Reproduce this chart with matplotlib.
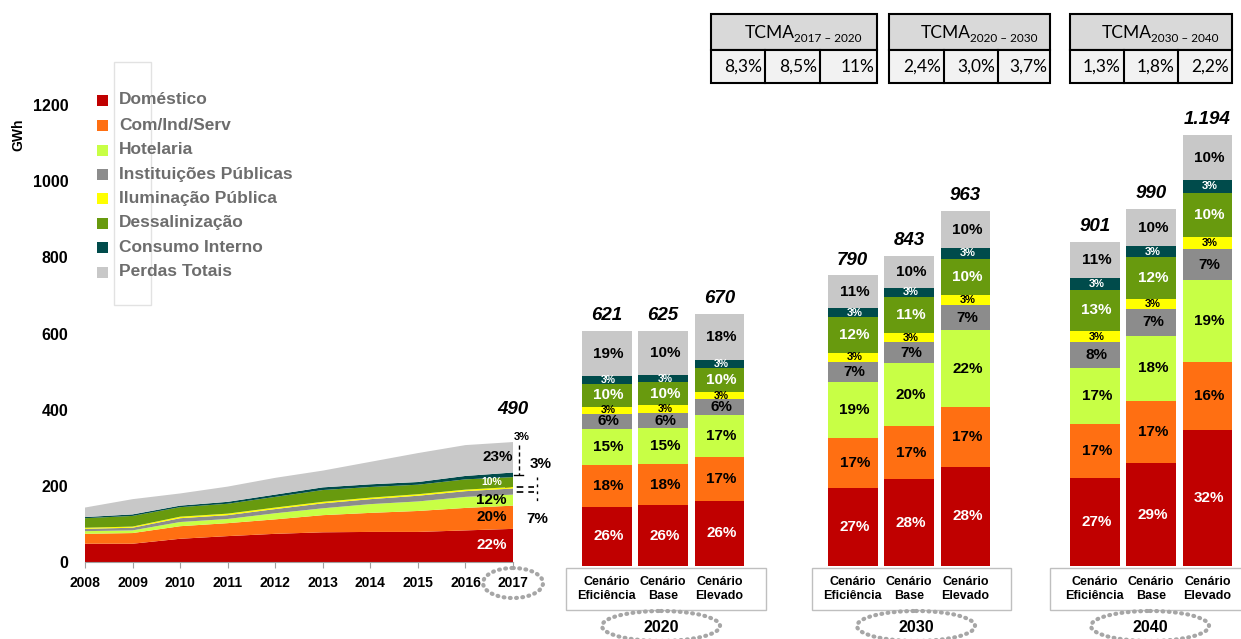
import matplotlib
matplotlib.use('Agg')
import matplotlib.pyplot as plt
from matplotlib.patches import Rectangle, Ellipse
import numpy as np

plt.rcParams['font.family'] = ['Liberation Sans', 'DejaVu Sans']

# ---------------- data ----------------
series = ['Doméstico', 'Com/Ind/Serv', 'Hotelaria', 'Instituições Públicas',
          'Iluminação Pública', 'Dessalinização', 'Consumo Interno', 'Perdas Totais']
colors = ['#C00000', '#FF6F12', '#C8FF45', '#8C8C8C', '#FFFF00', '#689A0E', '#004B4B', '#C8C8C8']
label_colors = ['white', 'black', 'black', 'black', 'black', 'white', 'white', 'black']

years = [2008, 2009, 2010, 2011, 2012, 2013, 2014, 2015, 2016, 2017]
hist_domestico = [48, 48, 61, 68, 74, 78, 79, 79, 83, 87]
hist_comind = [26, 28, 33, 34, 38, 45, 50, 55, 59, 61]
hist_hotelaria = [7, 7, 11, 11, 16, 18, 23, 25, 29, 29]
hist_inst = [6, 7, 10, 10, 11, 13, 13, 15, 15, 16]
hist_ilum = [3, 3, 4, 4, 4, 4, 4, 4, 4, 4]
hist_dessal = [25, 28, 25, 26, 28, 31, 28, 25, 27, 26]
hist_consumo = [3, 4, 4, 5, 6, 7, 7, 7, 9, 12]
hist_perdas = [25, 40, 32, 40, 44, 44, 59, 76, 81, 80]
hist_total_label = '490'

groups = ['2020', '2030', '2040']
scenarios = ['Cenário\nEficiência', 'Cenário\nBase', 'Cenário\nElevado']
# bar order: 2020 Ef, Base, Elev, 2030 Ef, Base, Elev, 2040 Ef, Base, Elev
sc_domestico = [156, 159, 171, 206, 228, 261, 232, 270, 356]
sc_comind = [109, 110, 114, 130, 140, 156, 142, 164, 179]
sc_hotelaria = [95, 93, 111, 146, 164, 202, 147, 171, 216]
sc_inst = [39, 40, 42, 55, 55, 66, 68, 69, 81]
sc_ilum = [19, 20, 19, 23, 25, 26, 27, 26, 33]
sc_dessal = [61, 60, 63, 93, 94, 96, 110, 111, 115]
sc_consumo = [19, 19, 20, 25, 25, 28, 29, 29, 34]
sc_perdas = [118, 117, 123, 85, 84, 97, 97, 97, 117]
sc_totals = ['621', '625', '670', '790', '843', '963', '901', '990', '1.194']
sc_pct = [
    [26, 18, 15, 6, 3, 10, 3, 19],
    [26, 18, 15, 6, 3, 10, 3, 10],
    [26, 17, 17, 6, 3, 10, 3, 18],
    [27, 17, 19, 7, 3, 12, 3, 11],
    [28, 17, 20, 7, 3, 11, 3, 10],
    [28, 17, 22, 7, 3, 10, 3, 10],
    [27, 17, 17, 8, 3, 13, 3, 11],
    [29, 17, 18, 7, 3, 12, 3, 10],
    [32, 16, 19, 7, 3, 10, 3, 10],
]

tcma_titles = ['2017 – 2020', '2020 – 2030', '2030 – 2040']
tcma_values = [['8,3%', '8,5%', '11%'], ['2,4%', '3,0%', '3,7%'], ['1,3%', '1,8%', '2,2%']]

# ---------------- layout ----------------
W, H = 1241, 639
fig = plt.figure(figsize=(W / 100, H / 100), dpi=100)


def px_axes(left, top, right, bottom):
    return fig.add_axes([left / W, 1 - bottom / H, (right - left) / W, (bottom - top) / H])


ov = px_axes(0, 0, W, H)
ov.set_xlim(0, W)
ov.set_ylim(H, 0)
ov.axis('off')

YMAX = 1250
SCALE = 0.3808  # px per GWh

# ---- area chart ----
area_bottom = 562
ax1 = px_axes(85, area_bottom - YMAX * SCALE, 513, area_bottom)
hist = [hist_domestico, hist_comind, hist_hotelaria, hist_inst, hist_ilum,
        hist_dessal, hist_consumo, hist_perdas]
ax1.stackplot(years, *hist, colors=colors, linewidth=0)
ax1.set_xlim(2008, 2017)
ax1.set_ylim(0, YMAX)
ax1.set_facecolor('none')
for s in ['top', 'right', 'left']:
    ax1.spines[s].set_visible(False)
ax1.spines['bottom'].set_color('#a0a0a0')
ax1.set_xticks(years)
ax1.set_xticklabels([str(y) for y in years], fontsize=10, fontweight='bold')
ax1.tick_params(axis='x', length=4, color='#a0a0a0', pad=6)
ax1.set_yticks(range(0, 1201, 200))
ax1.set_yticklabels([str(v) for v in range(0, 1201, 200)], fontsize=11.5, fontweight='bold')
ax1.tick_params(axis='y', length=0, pad=12)

cum = np.cumsum([h[-1] for h in hist])
bots = np.concatenate([[0], cum[:-1]])
xl = 2016.55
ax1.text(xl, bots[0] + hist[0][-1] / 2, '22%', color='white', fontsize=11, fontweight='bold', ha='center', va='center')
ax1.text(xl, bots[1] + hist[1][-1] / 2, '20%', color='black', fontsize=11, fontweight='bold', ha='center', va='center')
ax1.text(xl, bots[2] + hist[2][-1] / 2, '12%', color='black', fontsize=11, fontweight='bold', ha='center', va='center')
ax1.text(xl, bots[5] + hist[5][-1] / 2, '10%', color='white', fontsize=7.5, fontweight='bold', ha='center', va='center')
ax1.text(xl + 0.12, bots[7] + hist[7][-1] / 2, '23%', color='black', fontsize=11, fontweight='bold', ha='center', va='center')
ax1.annotate(hist_total_label, xy=(2017, cum[-1]), xytext=(0, 17), textcoords='offset points',
             ha='center', va='bottom', fontsize=13.5, fontweight='bold', style='italic')

# annotations right of 2017
ov.text(522, 437, '3%', fontsize=8, fontweight='bold', ha='center', va='center')
ov.plot([519, 519], [445, 475], color='black', lw=1, ls=(0, (3, 2)))
ov.plot([514, 523], [475, 475], color='black', lw=1)
ov.text(541, 464, '3%', fontsize=11, fontweight='bold', ha='center', va='center')
ov.plot([505, 534], [487, 487], color='black', lw=1.2, ls=(0, (4, 3)))
ov.plot([505, 534], [492, 492], color='black', lw=1.2, ls=(0, (4, 3)))
ov.plot([537, 537], [477, 504], color='black', lw=1, ls=(0, (2, 3)))
ov.text(537, 519, '7%', fontsize=11, fontweight='bold', ha='center', va='center')

ell = Ellipse((513, 583), 60, 30, fill=False, ec='#a6a6a6', lw=3, ls=(0, (0.2, 1.3)))
ell.set_capstyle('round')
ov.add_patch(ell)

ov.text(18, 135, 'GWh', rotation=90, fontsize=10, fontweight='bold', ha='center', va='center')

# ---- legend ----
ov.add_patch(Rectangle((114, 62), 37, 243, fill=False, ec='#e2e2e2', lw=1))
leg_y = [100, 125, 150, 174, 198, 223, 247, 272]
for name, col, y in zip(series, colors, leg_y):
    ov.add_patch(Rectangle((97, y - 5.5), 11, 11, fc=col, ec='none'))
    ov.text(119, y, name, fontsize=12.5, fontweight='bold', color='#6d6d6d', ha='left', va='center')

# ---- scenario bars ----
bar_bottom = 566
ax2 = px_axes(560, bar_bottom - YMAX * SCALE, W, bar_bottom)
ax2.set_xlim(560, W)
ax2.set_ylim(0, YMAX)
ax2.axis('off')
group_left = [582, 828, 1070]
step, width = 56.3, 49.5
centers = [gl + i * step + width / 2 for gl in group_left for i in range(3)]
sc = [sc_domestico, sc_comind, sc_hotelaria, sc_inst, sc_ilum, sc_dessal, sc_consumo, sc_perdas]
bottom = np.zeros(len(centers))
for k, vals in enumerate(sc):
    vals = np.array(vals, dtype=float)
    ax2.bar(centers, vals, width=width, bottom=bottom, color=colors[k], edgecolor='none')
    for b, (cx, v, b0) in enumerate(zip(centers, vals, bottom)):
        small = sc_pct[b][k] <= 3 and k in (4, 6)
        fs = 8 if small else 11
        if small and b < 3:
            fs = 7.5
        ax2.text(cx + 2, b0 + v / 2, f'{sc_pct[b][k]}%', ha='center', va='center',
                 fontsize=fs, fontweight='bold', color=label_colors[k])
    bottom += vals
for cx, top, lab in zip(centers, bottom, sc_totals):
    ax2.annotate(lab, xy=(cx, top), xytext=(0, 5), textcoords='offset points', ha='center',
                 va='bottom', fontsize=13.5, fontweight='bold', style='italic')

# boxes and group labels
box_x = [(566, 766), (812, 1011), (1050, 1250)]
ell_cx = [661, 916, 1150]
for g, (bx0, bx1) in enumerate(box_x):
    ov.add_patch(Rectangle((bx0, 568), bx1 - bx0, 42, fc='white', ec='#bfbfbf', lw=1))
    for i in range(3):
        ov.text(centers[g * 3 + i], 589, scenarios[i], ha='center', va='center', fontsize=9,
                fontweight='bold', linespacing=1.15)
    e = Ellipse((ell_cx[g], 626), 118, 30, fill=False, ec='#a6a6a6', lw=3, ls=(0, (0.2, 1.3)))
    e.set_capstyle('round')
    ov.add_patch(e)
    ov.text(ell_cx[g], 627, groups[g], ha='center', va='center', fontsize=11.5, fontweight='bold')

# ---- TCMA tables ----
tables = [(711, 877, [765, 820]), (889, 1050, [944, 998]), (1070, 1232, [1124, 1178])]
for (x0, x1, divs), title, vals in zip(tables, tcma_titles, tcma_values):
    ov.add_patch(Rectangle((x0, 14), x1 - x0, 36, fc='#d9d9d9', ec='black', lw=1.5))
    ov.add_patch(Rectangle((x0, 50), x1 - x0, 33, fc='#f2f2f2', ec='black', lw=1.5))
    for d in divs:
        ov.plot([d, d], [50, 83], color='black', lw=1.5)
    cx = (x0 + x1) / 2
    t = ov.text(cx + 1, 33, 'TCMA', ha='right', va='center', fontsize=12.5, family=['Lato', 'DejaVu Sans'])
    ov.annotate(title, xy=(1, 0), xycoords=t, xytext=(-0.5, -2), textcoords='offset points',
                ha='left', va='bottom', fontsize=8.5, family=['Lato', 'DejaVu Sans'])
    edges = [x0] + divs + [x1]
    for j, v in enumerate(vals):
        ov.text(edges[j + 1] - 3, 67, v, ha='right', va='center', fontsize=12.5,
                family=['Lato', 'DejaVu Sans'])

fig.savefig('out.png', dpi=100)
